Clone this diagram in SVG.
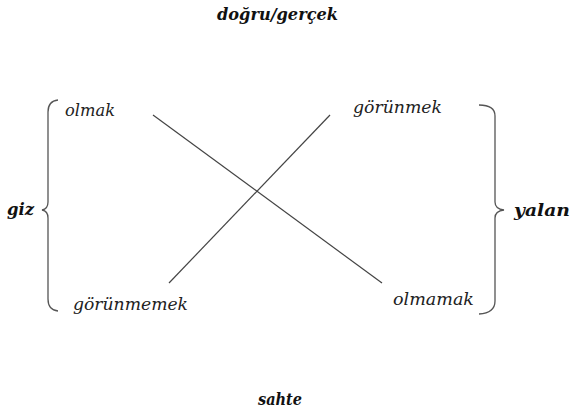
<svg xmlns="http://www.w3.org/2000/svg" width="571" height="418" viewBox="0 0 571 418">
<style>
.t{font-family:"DejaVu Serif","Liberation Serif",serif;font-style:italic;font-size:17px;fill:#222}
.b{font-weight:bold;font-size:17px;fill:#111}
.ln{stroke:#444;stroke-width:1.2;fill:none}
.br{stroke:#555;stroke-width:1.3;fill:none}
</style>
<rect width="571" height="418" fill="#fff"/>
<g id="connectors">
<line class="ln" x1="153" y1="115" x2="382" y2="283"/>
<line class="ln" x1="169" y1="283" x2="330" y2="115"/>
</g>
<g id="brace-left"><path class="br" d="M58,100 Q48,101 48,112 L48,202 Q48,209 42,210 Q48,211 48,218 L48,299 Q48,310 58,311"/></g>
<g id="brace-right"><path class="br" d="M479,105 Q495,105 495,116 L495,202 Q495,209 504,210 Q495,211 495,218 L495,301 Q495,313 479,314"/></g>
<g id="top"><text class="t b" x="217" y="20" textLength="121" lengthAdjust="spacingAndGlyphs">doğru/gerçek</text></g>
<g id="bottom"><text class="t b" x="258" y="405" textLength="44" lengthAdjust="spacingAndGlyphs">sahte</text></g>
<g id="giz"><text class="t b" x="7" y="215" textLength="27" lengthAdjust="spacingAndGlyphs">giz</text></g>
<g id="yalan"><text class="t b" x="514" y="216" textLength="56" lengthAdjust="spacingAndGlyphs">yalan</text></g>
<g id="olmak"><text class="t" x="65" y="116" textLength="50" lengthAdjust="spacingAndGlyphs">olmak</text></g>
<g id="gorunmek"><text class="t" x="353" y="113" textLength="89" lengthAdjust="spacingAndGlyphs">görünmek</text></g>
<g id="gorunmemek"><text class="t" x="73" y="310" textLength="115" lengthAdjust="spacingAndGlyphs">görünmemek</text></g>
<g id="olmamak"><text class="t" x="393" y="305" textLength="81" lengthAdjust="spacingAndGlyphs">olmamak</text></g>
</svg>
